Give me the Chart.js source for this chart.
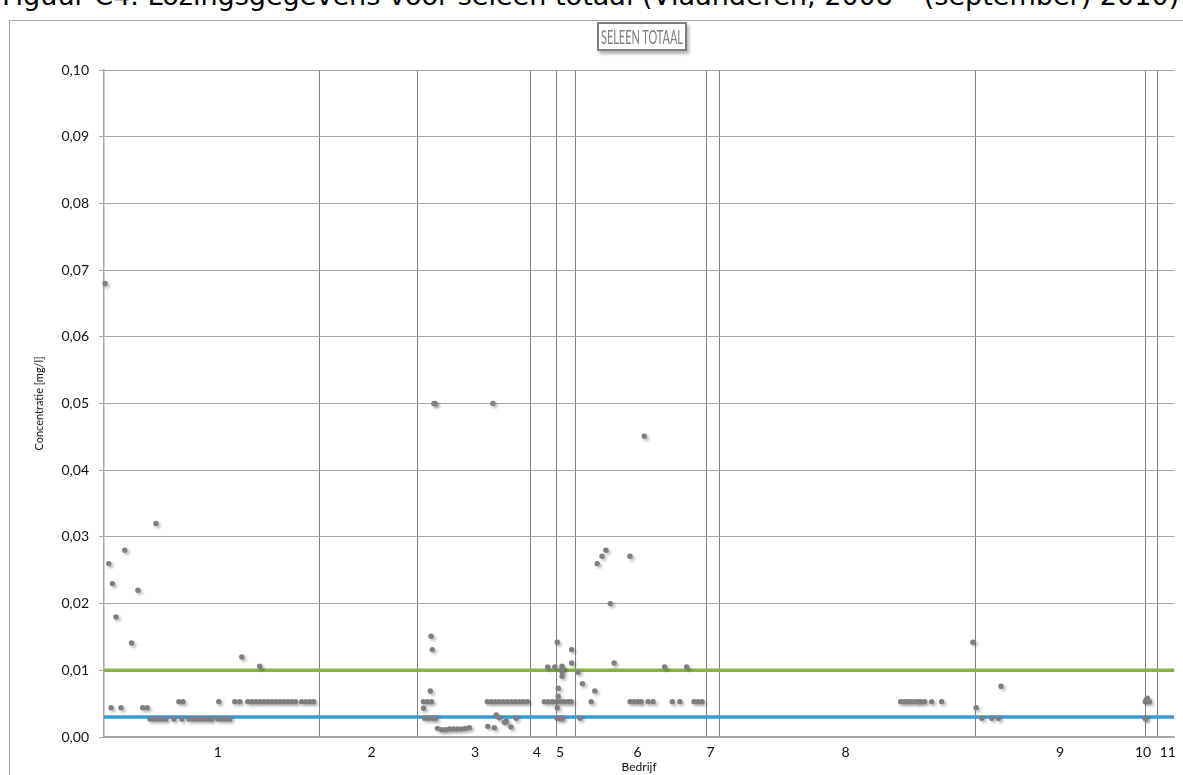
<!DOCTYPE html>
<html>
<head>
<meta charset="utf-8">
<script src="https://cdn.jsdelivr.net/npm/chart.js@4.4.1/dist/chart.umd.min.js"></script>
<style>
  html, body { margin: 0; padding: 0; background: #fff; }
  body { width: 1183px; height: 775px; position: relative; overflow: hidden; }
  #caption { position: absolute; left: 2px; white-space: nowrap; font-family: "DejaVu Sans", Verdana, sans-serif; color: #000; line-height: 1; }
  #frame { position: absolute; left: 9px; top: 20px; right: 0; bottom: 0; border-left: 1.5px solid #a6a6a6; border-top: 1.5px solid #a6a6a6; }
  #chart { position: absolute; left: 0; top: 0; }
  #title { position: absolute; left: 597px; top: 22px; width: 86px; height: 25px; border: 2px solid #7f7f7f;
    box-shadow: 2px 3px 3px rgba(0,0,0,0.3); background: #fff; color: #7f7f7f; white-space: nowrap;
    font: 20px "Lato", sans-serif; text-align: left; line-height: 25px; padding-left: 2px; box-sizing: content-box; width: 84px; }
  #title span { display: inline-block; transform-origin: 0 50%; }
</style>
</head>
<body>
<div id="caption">Figuur C4. Lozingsgegevens voor seleen totaal (Vlaanderen, 2008 – (september) 2010)</div>
<div id="frame"></div>
<canvas id="chart" width="1183" height="775"></canvas>
<div id="title"><span>SELEEN TOTAAL</span></div>
<script>
document.addEventListener("DOMContentLoaded", () => {

    // companies on the x axis and where their labels / separators sit (sample number)
    const companies = ["1", "2", "3", "4", "5", "6", "7", "8", "9", "10", "11"];
    const labelPos = [28.5, 67, 92.9, 108.4, 114.2, 133.6, 151.9, 185.7, 239.4, 260.2, 266.4];
    const boundaries = [54, 78.5, 106.9, 113.4, 118, 150.8, 154.1, 218.25, 260.7, 263.7];
    const xMax = 268;

    // limit values [mg/l]
    const greenLimit = 0.01;
    const blueLimit = 0.003;

    // measurements: [sample number, concentration mg/l]
    const bedrijf1 = [
        [0.25, 0.068], [1.2, 0.026], [2.1, 0.023], [3, 0.018], [5.2, 0.028], [6.9, 0.0141], [8.5, 0.022], [13, 0.032],
        [34.5, 0.012], [39, 0.0106],
        [1.75, 0.0044], [4.25, 0.0044], [9.7, 0.0044], [10.8, 0.0044],
        [11.5, 0.0027], [12.5, 0.0027], [13.5, 0.0027], [14.5, 0.0027], [15.5, 0.0027], [17.5, 0.0027], [19.5, 0.0027],
        [21.25, 0.0027], [22.25, 0.0027], [23.25, 0.0027], [24.25, 0.0027], [25.25, 0.0027], [26.25, 0.0027], [27, 0.0027],
        [28.5, 0.0027], [29.5, 0.0027], [30.5, 0.0027], [31.5, 0.0027],
        [18.75, 0.0053], [19.75, 0.0053], [28.75, 0.0053], [32.75, 0.0053], [34, 0.0053],
        [36, 0.0053], [37, 0.0053], [38, 0.0053], [39, 0.0053], [40, 0.0053], [41, 0.0053], [42, 0.0053],
        [43, 0.0053], [44, 0.0053], [45, 0.0053], [46, 0.0053], [47, 0.0053], [48, 0.0053],
        [49.5, 0.0053], [50.5, 0.0053], [51.5, 0.0053], [52.5, 0.0053]
    ];
    const bedrijf3 = [
        [82.6, 0.05], [82.9, 0.05], [97.4, 0.05], [81.9, 0.0151], [82.2, 0.0131], [81.7, 0.0069],
        [80, 0.0053], [81, 0.0053], [82, 0.0053], [80, 0.0043],
        [80.25, 0.0028], [81.25, 0.0028], [82.25, 0.0028], [83, 0.0028],
        [83.5, 0.0013], [84.5, 0.0011], [85.5, 0.0011], [86.5, 0.0012], [87.5, 0.0012], [88.5, 0.0012],
        [89.5, 0.0012], [90.5, 0.0013], [91.5, 0.0014],
        [96.1, 0.0016], [97.75, 0.0014], [98.2, 0.0033], [99, 0.0029], [100.25, 0.0022], [100.75, 0.0024],
        [101.9, 0.0015], [103.2, 0.0028],
        [96, 0.0053], [97, 0.0053], [98, 0.0053], [99, 0.0053], [100, 0.0053], [101, 0.0053],
        [102, 0.0053], [103, 0.0053], [104, 0.0053], [105, 0.0053], [106, 0.0053]
    ];
    const bedrijf4 = [
        [111.1, 0.0105], [112.9, 0.0105],
        [110.25, 0.0053], [111.25, 0.0053], [112.25, 0.0053], [113.25, 0.0053]
    ];
    const bedrijf5 = [
        [113.5, 0.0142], [114.7, 0.0106], [114.7, 0.0102], [114.7, 0.0098], [114.7, 0.0091],
        [113.75, 0.0073], [113.75, 0.0061], [113.5, 0.0044],
        [114.25, 0.0053], [115.25, 0.0053], [116.25, 0.0053], [117, 0.0053],
        [113.5, 0.0028], [114.25, 0.0028], [114.75, 0.0028],
        [117.1, 0.0131], [117.1, 0.0111]
    ];
    const bedrijf6 = [
        [118.7, 0.0097], [119.8, 0.008], [119.2, 0.0028], [122, 0.0053], [122.9, 0.0069],
        [123.5, 0.026], [124.7, 0.0271], [125.7, 0.028], [126.8, 0.02], [127.75, 0.0111],
        [131.7, 0.0271], [135.3, 0.0451],
        [131.75, 0.0053], [132.75, 0.0053], [133.75, 0.0053], [134.5, 0.0053], [136.25, 0.0053], [137.5, 0.0053],
        [140.4, 0.0105], [142.3, 0.0053], [144.2, 0.0053], [145.9, 0.0105],
        [147.75, 0.0053], [148.75, 0.0053], [149.75, 0.0053]
    ];
    const bedrijf8 = [
        [199.5, 0.0053], [200.4, 0.0053], [201.25, 0.0053], [202.1, 0.0053], [203, 0.0053],
        [203.9, 0.0053], [204.5, 0.0053], [205.5, 0.0053], [207.25, 0.0053], [209.75, 0.0053],
        [217.6, 0.0142]
    ];
    const bedrijf9 = [
        [218.4, 0.0044], [219.8, 0.0028], [222.3, 0.0028], [224, 0.0028], [224.6, 0.0076]
    ];
    const bedrijf10 = [
        [260.7, 0.0028], [260.8, 0.0028], [260.75, 0.0053], [261, 0.0056], [261.25, 0.0058], [261.75, 0.0053]
    ];

    const points = [bedrijf1, bedrijf3, bedrijf4, bedrijf5, bedrijf6, bedrijf8, bedrijf9, bedrijf10]
        .flat()
        .map(p => ({ x: p[0], y: p[1] }));

    // caption at the very top, fitted to the page width
    const cap = document.getElementById("caption");
    const mctx = document.createElement("canvas").getContext("2d");
    mctx.font = '100px "DejaVu Sans"';
    const size = 100 * 1178 / mctx.measureText(cap.textContent).width;
    cap.style.fontSize = size + "px";
    cap.style.top = (7 - size * 0.93) + "px";

    // squeeze the boxed title to a narrow look
    const tspan = document.querySelector("#title span");
    const tw = tspan.offsetWidth;
    tspan.style.transform = "scaleX(" + (82 / tw) + ")";

    const dotShadow = {
        id: "dotShadow",
        beforeDatasetDraw(chart, args) {
            if (args.index !== 0) return;
            const c = chart.ctx;
            c.save();
            c.shadowColor = "rgba(0,0,0,0.28)";
            c.shadowBlur = 3;
            c.shadowOffsetX = 2;
            c.shadowOffsetY = 2;
        },
        afterDatasetDraw(chart, args) {
            if (args.index === 0) chart.ctx.restore();
        }
    };

    const font = { family: "Lato, 'Open Sans', sans-serif", size: 14 };

    new Chart(document.getElementById("chart"), {
        type: "scatter",
        data: {
            datasets: [
                {
                    data: points,
                    backgroundColor: "#7f7f7f",
                    borderWidth: 0,
                    pointRadius: 2.7,
                    clip: false
                },
                {
                    data: [{ x: 0, y: greenLimit }, { x: xMax, y: greenLimit }],
                    showLine: true,
                    borderColor: "#84b442",
                    borderWidth: 3.5,
                    pointRadius: 0
                },
                {
                    data: [{ x: 0, y: blueLimit }, { x: xMax, y: blueLimit }],
                    showLine: true,
                    borderColor: "#3a9ad8",
                    borderWidth: 3.5,
                    pointRadius: 0
                }
            ]
        },
        options: {
            responsive: false,
            animation: false,
            layout: { padding: { left: 30, top: 70, right: 7, bottom: 0 } },
            plugins: { legend: { display: false }, tooltip: { enabled: false } },
            scales: {
                x: {
                    type: "linear",
                    position: "bottom",
                    min: 0,
                    max: xMax,
                    afterBuildTicks: s => { s.ticks = labelPos.map(v => ({ value: v })); },
                    afterFit: s => { s.height = 38; },
                    grid: { display: false, drawTicks: false },
                    border: { color: "#a6a6a6", width: 1.5 },
                    ticks: {
                        autoSkip: false,
                        maxRotation: 0,
                        padding: 7,
                        color: "#111",
                        font: font,
                        callback: (v, i) => companies[i]
                    },
                    title: {
                        display: true,
                        text: "Bedrijf",
                        color: "#111",
                        font: { family: font.family, size: 12 },
                        padding: { top: 0, bottom: 1 }
                    }
                },
                x2: {
                    type: "linear",
                    position: "top",
                    min: 0,
                    max: xMax,
                    afterBuildTicks: s => { s.ticks = boundaries.map(v => ({ value: v })); },
                    afterFit: s => { s.height = 0; },
                    grid: { color: "#7f7f7f", lineWidth: 1, drawTicks: false },
                    border: { display: false },
                    ticks: { display: false }
                },
                y: {
                    min: 0,
                    max: 0.1,
                    afterFit: s => { s.width = 74; },
                    grid: { color: "#a6a6a6", lineWidth: 1, tickLength: 5 },
                    border: { color: "#a6a6a6", width: 1.5 },
                    ticks: {
                        stepSize: 0.01,
                        padding: 10,
                        color: "#111",
                        font: font,
                        callback: v => v.toFixed(2).replace(".", ",")
                    },
                    title: {
                        display: true,
                        text: "Concentratie [mg/l]",
                        color: "#111",
                        font: { family: font.family, size: 11 },
                        padding: { top: 3, bottom: 0 }
                    }
                }
            }
        },
        plugins: [dotShadow]
    });

});
</script>
</body>
</html>
